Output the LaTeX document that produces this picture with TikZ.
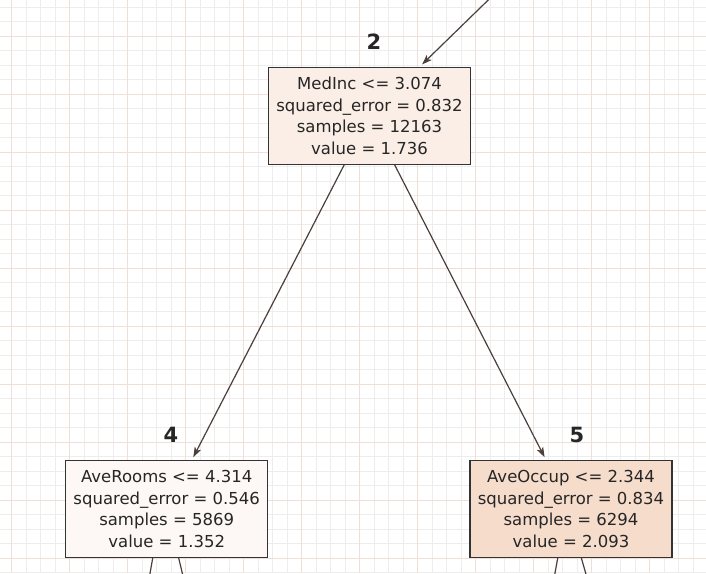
\documentclass[tikz,border=0pt]{standalone}
\usepackage{fontspec}
\setmainfont{DejaVu Sans}
\usetikzlibrary{arrows.meta}
\definecolor{gridminor}{HTML}{EDEDED}
\definecolor{gridmajor}{HTML}{F0DFD6}
\definecolor{edgecol}{HTML}{4A3F3B}
\definecolor{fillmid}{HTML}{FBEEE6}
\definecolor{filllow}{HTML}{FDF8F5}
\definecolor{fillhigh}{HTML}{F6DCCB}

\begin{document}
\begin{tikzpicture}[x=1pt,y=-1pt,
  tree_node/.style={rectangle,draw=black!80,line width=1.3pt,minimum width=202pt,minimum height=97pt,inner sep=0pt,align=center,text=black!85,font=\fontsize{16.5}{21.7}\selectfont},
  id_label/.style={font=\bfseries\fontsize{21}{21}\selectfont,text=black!85},
  edge_line/.style={draw=edgecol,line width=1.2pt,shorten >=3pt,-{Stealth[length=10pt,width=7pt,inset=2.5pt]}}]

    \useasboundingbox (0,0) rectangle (706,573);
    \fill[white] (0,0) rectangle (706,573);
    \clip (0,0) rectangle (706,573);

    % grid
    \foreach \k in {0,...,49} \draw[gridminor,line width=0.8pt] (-2.8+14.5*\k,0) -- ++(0,573);
    \foreach \k in {0,...,39} \draw[gridminor,line width=0.8pt] (0,7+14.5*\k) -- ++(706,0);
    \foreach \k in {0,...,12} \draw[gridmajor,line width=1pt] (11.7+58*\k,0) -- ++(0,573);
    \foreach \k in {0,...,9} \draw[gridmajor,line width=1pt] (0,36+58*\k) -- ++(706,0);

    \node[tree_node,fill=fillmid] (n2) at (369.5,115.7) {MedInc <= 3.074\\squared\_error = 0.832\\samples = 12163\\value = 1.736};
    \node[tree_node,fill=filllow] (n4) at (166.7,509) {AveRooms <= 4.314\\squared\_error = 0.546\\samples = 5869\\value = 1.352};
    \node[tree_node,fill=fillhigh] (n5) at (571,509) {AveOccup <= 2.344\\squared\_error = 0.834\\samples = 6294\\value = 2.093};

    \node[id_label] (l2) at (374,42) {2};
    \node[id_label] (l4) at (171,435) {4};
    \node[id_label] (l5) at (577,435) {5};

    \coordinate (from_root) at (498.5,-10);
    \coordinate (n4_left) at (143.5,610);
    \coordinate (n4_right) at (191.2,610);
    \coordinate (n5_left) at (548.3,610);
    \coordinate (n5_right) at (596.2,610);

    \draw[edge_line] (from_root) -- (n2);
    \draw[edge_line] (n2) -- (n4);
    \draw[edge_line] (n2) -- (n5);
    \draw[edge_line] ([xshift=-14pt]n4.south) -- (n4_left);
    \draw[edge_line] ([xshift=12pt]n4.south) -- (n4_right);
    \draw[edge_line] ([xshift=-13.3pt]n5.south) -- (n5_left);
    \draw[edge_line] ([xshift=10.4pt]n5.south) -- (n5_right);
\end{tikzpicture}
\end{document}
